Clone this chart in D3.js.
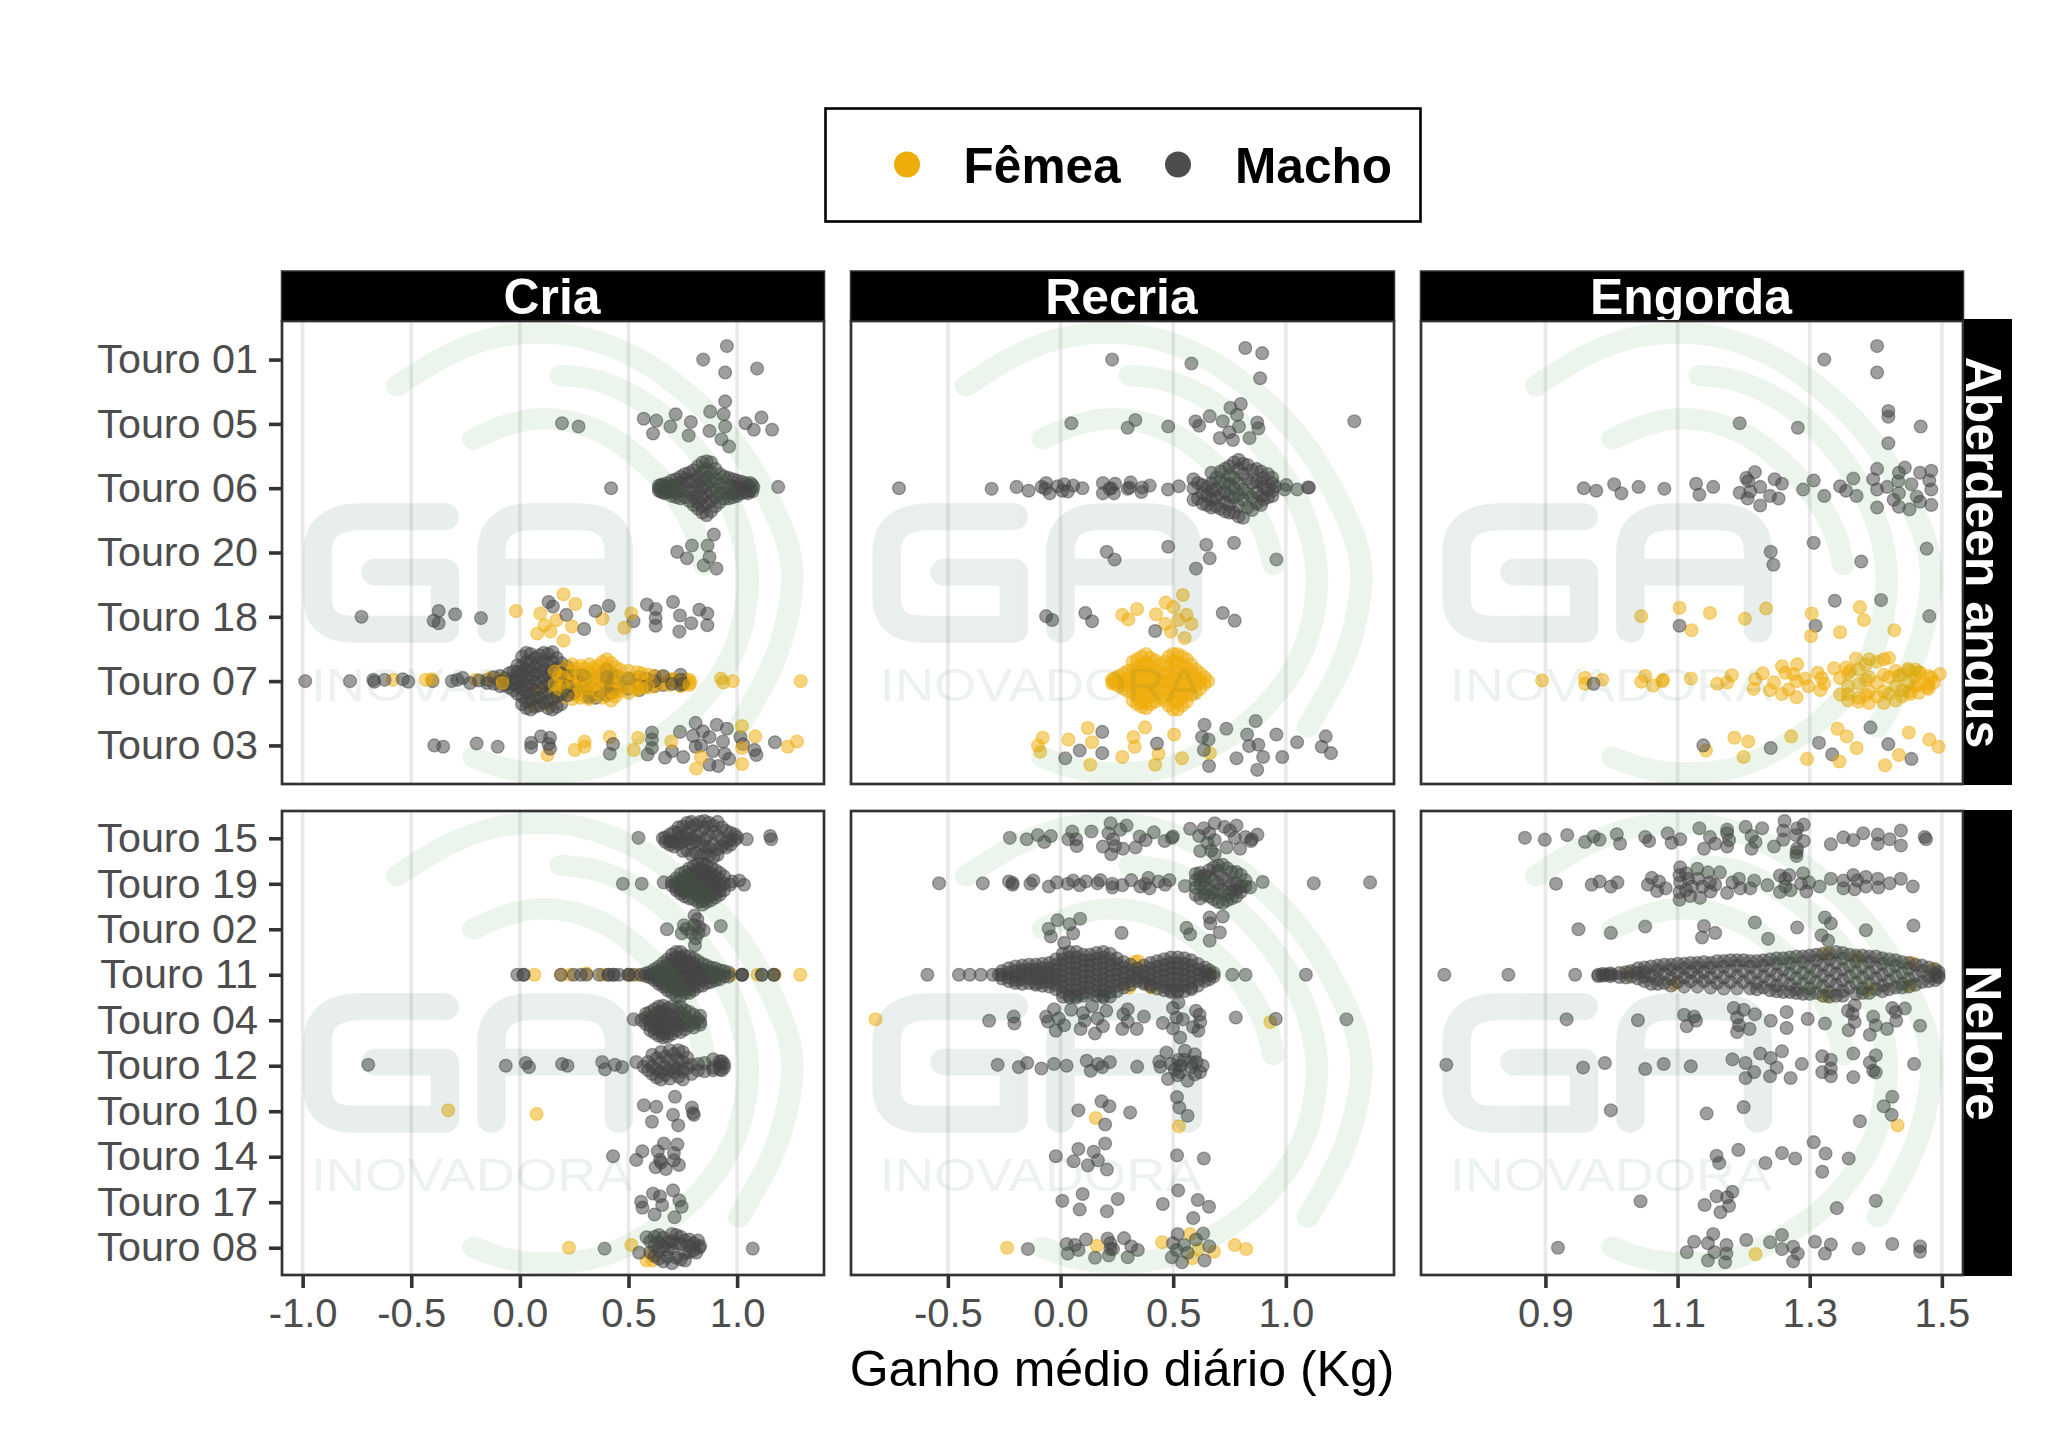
<!DOCTYPE html>
<html><head><meta charset="utf-8">
<script src="https://cdn.jsdelivr.net/npm/d3@7"></script>
<style>html,body{margin:0;background:#fff}svg{display:block}text{font-family:"Liberation Sans",Arial,sans-serif}</style>
</head><body><svg id="c" width="2048" height="1433"></svg>
<script>
const fases=["Cria","Recria","Engorda"];
const racas=["Aberdeen angus","Nelore"];
const sexos=["Fêmea","Macho"];
const tourosAngus=[1,5,6,20,18,7,3];
const tourosNelore=[15,19,2,11,4,12,10,14,17,8];
const ticksCria=[-1,-.5,0,.5,1];
const ticksRecria=[-.5,0,.5,1];
const ticksEngorda=[.9,1.1,1.3,1.5];
// Each entry: [touro, [ganho, desvio vertical em % da categoria...], ...]
const criaAngusMacho=[
[1,[.953,-21],[.844,0],[.945,20],[1.092,14]],
[5,[.194,-1],[.27,4],[.57,-8],[.628,-5],[.717,-15],[.693,4],[.613,15],[.787,-3],[.777,18],[.876,-19],[.945,-35],[.938,-15],[.945,4],[.873,11],[.928,24],[.963,35],[1.039,-1],[1.112,-10],[1.077,9],[1.161,9]],
[6,[.42,0],[1.189,-2],[.64,0,-4,4],[.65,-5,5],[.66,0,-6,7],[.67,-3,8],[.68,-8,3,6],[.70,-12,-4,6,12],[.72,-14,-4,6,14],[.74,-18,-8,4,16],[.76,-14,0,14,-22],[.78,-24,-10,6,20],[.80,-28,-12,2,14,26],[.82,-34,-18,-6,8,22,32],[.84,-40,-26,-12,0,14,28,38],[.86,-42,-30,-16,-4,10,24,42],[.88,-40,-24,-10,6,20,36],[.90,-30,-14,0,14,28],[.92,-22,-6,8,22],[.94,-18,0,16],[.96,-16,-4,8,16],[.98,-14,-2,8,14],[1.0,-12,-2,8,12],[1.02,-10,0,8],[1.04,-8,6],[1.05,-4,8],[1.06,-8,4],[1.07,-5,5],[1.075,-1]],
[20,[.893,-28],[.792,-11],[.724,-1],[.769,9],[.864,-11],[.873,7],[.846,20],[.905,25]],
[18,[-.729,0],[-.374,-9],[-.397,6],[-.374,10],[-.298,-4],[-.179,2],[.132,-23],[.152,-16],[.214,-3],[.296,19],[.348,-9],[.409,-17],[.523,7],[.585,-19],[.625,-12,2,14],[.705,-23],[.737,-2],[.734,23],[.789,10],[.826,-11],[.863,-5,13]],
[7,[-.988,0],[-.782,0],[-.675,-2],[-.67,1],[-.623,-2],[-.539,-3],[-.514,1],[-.402,0],[-.313,0],[-.288,-2],[-.263,-5],[-.229,3],[-.188,-1],[-.15,-2,3],[-.12,-6,4],[-.09,0,-8,8],[-.07,-4,6],[-.05,-12,0,10],[-.03,-15,-5,5,14],[-.01,-25,-14,-3,8,20],[.01,-38,-24,-12,0,12,24,36],[.03,-44,-30,-18,-6,6,18,32,42],[.05,-42,-30,-16,-4,8,20,30,44],[.07,-36,-22,-10,2,14,26,40],[.09,-40,-28,-14,0,12,26,38],[.11,-44,-32,-18,-6,8,20,34],[.13,-42,-26,-12,2,16,30,42],[.15,-45,-30,-16,-2,12,28,44],[.17,-36,-20,-6,10,24,40],[.19,-28,-12,4,20,36],[.22,-22,-8,8,22],[.25,-14,6,18],[.29,-10,10],[.32,12,25],[.35,-5,15,26],[.40,-18,-6,8,22],[.42,-12,4,18],[.45,-8,10],[.50,-4,12],[.55,-6,6,14],[.58,-4,8],[.62,0,-8,8],[.66,-8,6],[.70,-2,4],[.74,-10,-2,6],[.75,4]],
[3,[-.394,0],[-.353,2],[-.199,-3],[-.102,2],[.052,-4,3],[.097,-14],[.139,-12,5],[.132,-2],[.429,-2],[.414,13],[.608,-20,-9,4],[.588,14],[.668,19],[.7,9],[.737,-21],[.752,18],[.809,-35,2],[.797,-15],[.843,-22],[.873,-13,30],[.834,0],[.888,9],[.906,-32],[.953,-26],[.935,-6],[.943,13],[.963,21],[.913,32],[1.015,-13],[1.027,-2],[1.08,7],[1.089,15],[1.174,-5]]
];
const criaAngusFemea=[
[18,[-.018,-9],[.201,-35,37],[.255,-20],[.094,-5],[.169,5],[.114,13],[.24,15],[.08,26],[.141,23],[.38,3],[.513,-5],[.481,17]],
[7,[-.585,-2],[-.434,-2],[-.405,-3],[-.204,-2],[-.137,-5],[-.08,-3,3],[.027,-19],[.08,13],[.069,37],[.139,37],[.16,-15,5,20],[.18,-8,12],[.20,-22,-6,8,24],[.22,-18,0,16],[.24,-26,-12,4,18,28],[.26,-20,-6,8,22],[.28,-24,-10,2,14,26],[.30,-20,-4,10,24],[.32,-26,-14,0,12,28],[.34,-20,-8,6,20],[.36,-24,-10,4,18],[.38,-30,-16,-2,12,26],[.40,-34,-20,-6,8,22],[.42,-28,-12,2,16,30],[.44,-22,-8,4,16,24],[.46,-18,-6,6,16],[.50,-16,-4,8,18],[.54,-14,-4,10,14],[.56,-12,2,10],[.59,-10,2,10],[.62,-8,2,8],[.66,-6,4],[.69,-2,6],[.71,0,-4],[.74,2,8],[.76,-3,5],[.78,-2,6],[.785,2],[.926,-4],[.936,2],[.98,0],[1.293,0]],
[3,[.127,15],[.253,7],[.298,-6,2],[.414,-13],[.524,7],[.544,-12],[.697,-6],[.834,18],[.812,36],[1.022,-30],[1.023,4,29],[1.084,-14],[1.233,2],[1.276,-6]]
];
const recriaAngusMacho=[
[1,[.229,0],[.581,6],[.82,-18],[.895,-10],[.886,29]],
[5,[.048,-1],[.332,-6],[.298,6],[.478,4],[.599,-4],[.615,3],[.662,-12],[.72,-4],[.754,-25],[.8,-31],[.783,-14],[.792,4],[.749,13],[.707,22],[.765,25],[.839,22],[.873,-2],[.878,7],[1.304,-4]],
[6,[-.717,0],[-.306,1],[-.195,-2],[-.142,4],[-.084,-2],[-.064,-8],[-.068,1],[-.048,8],[-.013,-3],[.016,-6],[.008,4],[.032,5],[.056,-4],[.097,0],[.188,-8,8],[.225,0],[.217,1],[.242,-7],[.237,8],[.298,1],[.311,-9],[.306,-1],[.362,-1],[.359,6],[.396,-4],[.477,2],[.525,-3],[.59,0,-14,18],[.61,-8,16],[.63,-5,8,24],[.65,-2,12,26],[.67,-24,-8,4,18,30],[.69,-16,2,14,28],[.71,-26,-10,10,32],[.73,-30,-8,6,22,36],[.75,-34,-20,-6,12,26,38],[.77,-40,-16,0,14,38],[.79,-44,-30,-8,10,28,44],[.81,-38,-22,2,18,46],[.83,-36,-14,8,30],[.85,-28,-8,14,34],[.87,-30,-10,6,24],[.89,-26,-8,12,26],[.90,-16,-2,18],[.92,-22,2,14],[.94,-8,4,-16,12],[.953,-3],[1.002,-5],[.994,2],[1.05,2],[1.098,-1],[1.103,-1]],
[20,[.205,-1],[.24,11],[.478,-9],[.647,-12],[.662,9],[.601,25],[.77,-15],[.958,11]],
[18,[-.064,-1],[-.037,5],[.11,-6],[.14,7],[.42,22],[.72,-6],[.773,6]],
[3,[.185,-21,12],[.085,8],[.021,20],[.428,-3],[.639,-32],[.628,-13],[.657,-9],[.636,7],[.659,32],[.736,-26],[.828,-17],[.837,1],[.866,-38],[.878,-1],[.899,18],[.781,20],[.873,38],[.958,-17],[.984,18],[1.05,-5],[1.159,2],[1.177,-14],[1.2,12]]
];
const recriaAngusFemea=[
[18,[.274,-3],[.34,-12],[.301,4],[.424,-4],[.467,-22],[.543,-34],[.501,-15],[.559,-3],[.523,5],[.465,11],[.581,11],[.49,23],[.551,33]],
[7,[.23,0,-3,4],[.245,-5,4],[.26,-8,2,8],[.28,-12,0,12],[.30,-16,-4,6,16],[.32,-30,-18,-6,6,18,30],[.34,-34,-22,-10,2,14,26,36],[.36,-38,-26,-14,-2,10,22,34,40],[.38,-42,-28,-16,-4,8,20,32,42],[.40,-36,-24,-12,0,12,24,36],[.42,-32,-16,-4,8,20,32],[.44,-26,-12,0,12,26],[.46,-30,-10,2,14,30],[.48,-38,-24,-12,0,12,24,38],[.50,-42,-30,-18,-6,6,18,30,44],[.52,-42,-28,-16,-4,8,20,32,44],[.54,-38,-26,-12,0,12,26,38],[.56,-34,-20,-8,6,20,32],[.58,-26,-14,-2,10,22],[.60,-18,-6,6,18],[.62,-12,0,12],[.64,-6,4],[.655,0]],
[3,[-.079,-12],[-.1,0],[-.09,10],[.035,-9],[.121,-27],[.14,-5],[.132,30],[.274,18],[.324,-13],[.329,2],[.375,-28],[.435,13],[.42,30],[.504,-17],[.539,20],[.663,12]]
];
const engordaAngusMacho=[
[1,[1.402,-21,20],[1.322,0]],
[5,[1.194,-1],[1.282,6],[1.419,-20,-11,30],[1.468,4]],
[6,[.958,0],[.977,4],[1.004,-6],[1.015,8],[1.041,-2],[1.08,1],[1.128,-7],[1.133,10],[1.154,-2],[1.217,-25],[1.204,-16],[1.207,-11],[1.247,-14],[1.258,-7],[1.194,7],[1.21,5],[1.206,16],[1.225,-2,27],[1.24,12],[1.253,16],[1.29,2],[1.306,-12],[1.322,12],[1.346,-3],[1.355,4],[1.366,-15],[1.371,12],[1.402,-30,2,30],[1.396,-14],[1.417,-2],[1.435,-24,8,29],[1.444,-32],[1.434,-11],[1.454,-6],[1.427,18],[1.451,33],[1.462,13],[1.467,21,-24],[1.484,-27,2,26],[1.481,-12]],
[20,[1.241,-1],[1.245,19],[1.306,-15],[1.378,14],[1.477,-6]],
[18,[1.103,14],[1.338,-25],[1.309,14],[1.408,-26],[1.481,-1]],
[7,[.973,4]],
[3,[1.139,0],[1.241,4],[1.314,-4],[1.334,14],[1.392,-28],[1.419,-2],[1.454,21]]
];
const engordaAngusFemea=[
[18,[1.045,-1],[1.103,-14],[1.149,-6],[1.121,21],[1.202,3],[1.234,-13],[1.303,-5],[1.302,30],[1.346,24],[1.376,-15],[1.382,5],[1.428,21]],
[7,[.895,-1],[.96,-5,4],[.986,-2],[1.051,-8],[1.045,1],[1.063,7],[1.077,0],[1.078,-2],[1.12,-4],[1.16,4],[1.182,-9],[1.175,2],[1.215,12],[1.218,-3],[1.229,-12],[1.24,14],[1.246,2],[1.258,-23,20],[1.263,-13],[1.268,13],[1.281,-26],[1.275,-11],[1.28,0,25],[1.293,-4],[1.298,8],[1.312,-13],[1.318,-5],[1.322,4],[1.316,14],[1.337,-20],[1.346,-5,21],[1.355,-21],[1.37,-35],[1.361,-16],[1.358,-12,8,20,30],[1.374,-18,4,26,32],[1.385,-26,-2,22],[1.39,-34,-6,16,34],[1.402,-30,2,24],[1.412,-34,-10,16,34],[1.42,-36,-6,20],[1.43,-16,8,30],[1.44,-10,14,24],[1.45,-16,2,16],[1.46,-6,8,-18],[1.465,-14,6,18],[1.48,-8,4,12],[1.478,10],[1.484,-5],[1.488,2],[1.497,-11],[1.449,-19],[1.467,-13],[1.452,20],[1.434,-8]],
[3,[1.143,8],[1.186,-12],[1.207,-6],[1.2,18],[1.272,-14],[1.296,21],[1.342,-26],[1.356,-14],[1.371,4],[1.345,25],[1.414,31],[1.435,15],[1.45,-20],[1.481,-9],[1.495,2]]
];
const criaNeloreMacho=[
[15,[.546,-1],[.658,0],[1.152,-5],[1.157,2],[1.044,2],[.67,-2,8],[.69,-8,6,14],[.71,-14,8,18],[.73,-24,-12,0,12],[.75,-26,-4,8,28],[.77,-34,-10,2,26],[.79,-36,-24,0,12,36],[.81,-30,-6,6,32],[.83,-36,-12,14,40],[.85,-38,-24,4,18,34],[.87,-34,-8,20,38],[.89,-28,-14,14,42],[.91,-36,-6,24,36],[.93,-24,4,18],[.95,-16,10,20],[.97,-12,2,14],[.99,-8,4],[1.0,-2]],
[19,[.474,0],[.561,0],[.662,-3],[1.032,2],[1.01,-7],[.977,-5],[.968,2],[.70,-4,4],[.72,-12,-2,8,14],[.74,-22,-8,4,14,22],[.76,-26,-14,-4,8,18,28],[.78,-34,-20,-8,4,16,32],[.80,-38,-26,-14,-2,10,22,34],[.82,-44,-32,-20,-8,4,16,28,40],[.84,-44,-34,-22,-10,2,14,26,38,46],[.86,-40,-28,-16,-4,8,20,30,40],[.88,-36,-22,-10,2,14,26,36],[.90,-30,-16,-4,8,20,30],[.92,-24,-8,4,16,24],[.94,-16,0,14]],
[2,[.677,0],[.925,-7],[.755,-9],[.745,9],[.804,-30],[.817,-22],[.801,-9],[.826,-5],[.789,8],[.822,8],[.846,2],[.809,20],[.806,35],[.767,-1]],
[11,[-.012,0],[.017,0,0],[.189,0],[.248,0],[.281,0],[.307,0],[.365,0],[.407,0,0],[.432,0,0],[.457,0],[.5,0,0],[.524,0],[.558,0],[1.023,0,0,0],[1.114,0,0],[1.169,0,0],[.58,-3,3],[.60,-6,0,6],[.62,-12,-4,4,12],[.64,-18,-8,2,12,20],[.66,-26,-14,-4,8,18,26],[.68,-34,-22,-10,2,14,26,34],[.70,-44,-32,-20,-8,4,16,28,40],[.72,-50,-38,-26,-14,-2,10,22,34,46],[.74,-50,-38,-26,-14,-2,10,22,34,48],[.76,-42,-30,-18,-6,6,18,30,40],[.78,-40,-28,-16,-4,8,20,32,40],[.80,-36,-24,-12,0,12,24,34],[.82,-30,-14,-2,10,26],[.84,-24,-12,0,12,24],[.86,-20,-8,4,18],[.88,-16,-6,6,16],[.90,-14,-4,6,12],[.92,-10,0,10],[.94,-8,4],[.96,-5,4]],
[4,[.524,-2],[.56,0],[.58,-6,8,-14],[.60,-18,0,12,22],[.62,-24,-10,4,18,28],[.64,-30,-18,-4,8,22,34],[.66,-32,-20,-8,4,16,30,38],[.68,-26,-14,0,14,28,36],[.70,-30,-10,4,18,30],[.72,-26,-6,8,22],[.74,-30,-16,-2,12,26],[.76,-22,-8,6,20],[.78,-18,0,12],[.80,-12,6,16],[.83,-10,4,10],[.82,-2]],
[12,[-.698,-2],[-.065,0],[.027,-6],[.042,3],[.194,-4],[.219,0],[.379,-8],[.392,8],[.437,-2],[.471,3],[.536,-8],[.57,2],[.59,-8,10],[.61,-24,2,18],[.63,-16,8,26],[.65,-30,-6,14,30],[.67,-20,4,20],[.69,-34,-12,10,28],[.71,-26,2,14],[.73,-34,-14,6,24],[.75,-30,-8,12,30],[.77,-18,6],[.79,-2,18],[.82,-4,10],[.85,-6,12],[.89,-14,4,10],[.92,-10,-2,8],[.93,-10,10],[.94,-4,4]],
[10,[.571,-13],[.628,-10],[.714,-32],[.608,23],[.705,8],[.729,31],[.792,-8],[.801,8],[.797,4]],
[14,[.429,-1],[.536,7],[.564,-12],[.635,-12],[.663,-29],[.725,-27],[.709,-8,8],[.645,7],[.625,23],[.672,27],[.732,18],[.65,13]],
[17,[.613,-19],[.645,-13],[.705,-26],[.734,-4],[.745,10],[.558,-1],[.564,12],[.655,6],[.62,27],[.712,33]],
[8,[.39,2],[1.072,2],[.549,11],[.583,-23],[.60,-14,10],[.62,-24,-4,18],[.64,-28,-12,6,24],[.66,-22,-2,30],[.68,-12,4,20],[.70,-30,-14,2,34],[.72,-28,-10,22],[.74,-24,-8,26],[.76,-16,12,28],[.78,-18,-4,10],[.80,-10,6],[.82,-16],[.83,-4],[.826,0],[.812,11]]
];
const criaNeloreFemea=[
[11,[.067,0],[.189,0],[.231,0],[.307,-3],[.382,0],[.508,0],[.55,0],[.973,0],[1.094,0],[1.174,0],[1.291,0]],
[4,[.611,-10,-8]],
[10,[-.33,-2],[.077,6]],
[8,[.226,0],[.513,-6],[.583,28],[.605,15],[.611,28]]
];
const recriaNeloreMacho=[
[15,[-.225,-1],[-.15,2],[-.101,-7],[-.072,8],[-.043,-5],[.035,2],[.052,-15],[.069,2],[.072,17],[.137,-15],[.222,-33],[.213,-11],[.233,2],[.266,-19],[.293,-28],[.188,18],[.225,35],[.242,17],[.277,23],[.333,20],[.351,-4],[.378,4],[.414,-13],[.462,6],[.499,-4],[.494,-1],[.575,-21],[.636,-22],[.615,-5],[.66,-11],[.684,-33,4,35],[.652,10],[.62,28],[.668,27],[.737,20],[.728,-25],[.752,-17],[.781,-28],[.773,-1],[.797,23],[.821,-3],[.845,6],[.874,-8],[.849,2]],
[19,[-.539,-1],[-.345,-1],[-.229,-5],[-.213,2,-2],[-.134,0],[-.121,-7],[-.052,6],[-.016,-3],[.032,0],[.056,-7],[.085,3],[.113,-5],[.164,-1],[.177,-8],[.23,0,8],[.274,3],[.314,-8],[.354,6],[.375,0],[.395,10],[.39,-13],[.435,-5],[.464,2],[.483,-8],[.552,5],[.60,-22,-8,8,24],[.62,-24,-14,2,32],[.64,-18,-6,10,24],[.66,-30,-16,12,28],[.68,-36,-8,20,34],[.70,-40,-28,0,14,40],[.72,-42,-12,16,42],[.74,-34,-6,24,36],[.76,-26,2,18,32],[.78,-26,0,14,28],[.80,-20,6,18],[.82,-8,6],[.842,8],[.897,-4],[1.124,-1],[1.374,-3]],
[2,[-.013,-20],[.087,-23],[.04,-11],[-.053,-1],[.056,9],[-.043,16],[.016,30],[.271,8],[.559,-3],[.575,11],[.662,-26,25],[.72,-28],[.665,-13],[.707,7]],
[11,[-.591,0],[-.451,0],[-.403,0],[-.354,0],[-.301,0],[-.274,0],[.762,0],[.821,0],[1.089,0],[-.26,-8,0,8],[-.23,-14,-4,6,14],[-.20,-18,-8,2,12,18],[-.17,-20,-10,0,10,20],[-.14,-22,-12,-2,8,18],[-.11,-22,-12,-2,8,18,22],[-.08,-24,-14,-4,6,16,24],[-.05,-26,-14,-4,6,16,26],[-.02,-34,-22,-10,0,10,22,32],[.01,-46,-34,-22,-10,2,14,26,38,48],[.04,-50,-38,-26,-14,-2,10,22,34,46,50],[.07,-50,-38,-26,-14,-2,10,22,34,46,50],[.10,-44,-32,-20,-8,4,16,28,40,46],[.13,-44,-32,-20,-8,4,16,28,40],[.16,-48,-36,-24,-12,0,12,24,36,46],[.19,-50,-38,-26,-14,-2,10,22,34,46,50],[.22,-46,-34,-22,-10,2,14,26,38,48],[.25,-36,-24,-12,0,12,24,36],[.28,-28,-16,-4,8,20,28],[.31,-22,-10,2,14,22],[.34,-14,-4,6,14],[.37,-20,-8,4,16,20],[.40,-26,-14,-2,10,22,26],[.43,-30,-18,-6,6,18,30],[.46,-34,-22,-10,2,14,26,34],[.49,-38,-26,-14,-2,10,22,34,38],[.52,-38,-26,-14,-2,10,22,34,38],[.55,-36,-24,-12,0,12,24,36],[.58,-32,-20,-8,4,16,28,32],[.61,-24,-12,0,12,24],[.64,-16,-6,4,14],[.66,-10,0,10],[.68,-4,4]],
[4,[-.317,1],[-.208,-8],[-.205,7],[-.064,-8],[-.029,-24],[-.056,3],[-.008,-4],[-.021,23],[.016,11],[.047,-23],[.089,19],[.1,-16],[.108,1],[.14,-31],[.164,-4],[.153,29],[.188,13],[.203,-21],[.274,19],[.279,-13],[.298,-24,3],[.338,19],[.37,-8],[.454,6],[.499,-27,18],[.523,-39],[.515,-6],[.543,-2],[.531,38],[.601,-21],[.617,-12],[.62,4],[.588,15],[.612,23],[.778,-6],[.955,-3],[1.269,-2]],
[12,[-.279,-2],[-.185,3],[-.148,-6],[-.085,6],[-.029,-4],[.027,0],[.116,-11],[.134,11],[.166,-4],[.185,3],[.219,-8],[.34,2],[.438,-9],[.443,2],[.47,-29],[.477,29],[.491,-4],[.507,8],[.523,-13],[.531,0,14],[.52,21],[.552,-33],[.548,-13],[.564,33],[.58,4,-8],[.596,-25,19],[.604,-8],[.62,14],[.631,0]],
[10,[.182,-22],[.217,-11],[.079,-2],[.309,3],[.198,29],[.517,-31],[.527,-8],[.564,10]],
[14,[.198,-29],[.079,-17],[.147,-11],[-.021,-1],[.058,10],[.166,8],[.121,19],[.206,28],[.517,-3],[.636,4]],
[17,[.098,-18],[.008,-3],[.085,16],[.206,20],[.254,-7],[.454,4],[.522,-26],[.609,-5],[.659,10],[.589,35]],
[8,[-.145,3],[.027,-8],[.064,-6],[.08,5],[.032,13],[.113,-18],[.153,22],[.209,-20],[.221,-10,3],[.233,3],[.214,17],[.282,-21],[.314,-3],[.343,5],[.298,21],[.52,-30],[.499,-10],[.515,5],[.494,21],[.548,-6],[.564,11],[.539,32],[.601,-18],[.633,-31],[.66,-3],[.639,28]]
];
const recriaNeloreFemea=[
[11,[.345,-30],[.306,28],[.403,28],[.668,0],[.33,-28]],
[4,[-.821,-2],[.931,4]],
[10,[.156,15],[.525,33]],
[8,[-.237,0],[.161,-4],[.451,-12],[.575,-30],[.773,-6],[.824,3],[.681,9],[.612,3],[.585,23]]
];
const engordaNeloreMacho=[
[15,[.869,-1],[.899,3],[.933,-7],[.96,8],[.973,-4],[.982,3],[1.008,-9],[1.013,12],[1.051,-3],[1.057,6],[1.085,-11],[1.091,10],[1.104,2],[1.133,-22],[1.149,-3],[1.14,23],[1.157,12],[1.175,-19,-11,18],[1.178,4],[1.203,-25],[1.212,-5,23],[1.218,8],[1.228,-22],[1.246,18],[1.262,-38],[1.26,-17,3],[1.281,-22,23],[1.291,-30,6],[1.279,-7],[1.28,31,39],[1.332,13],[1.351,-2],[1.366,4],[1.381,-11],[1.403,-8,12],[1.421,2],[1.438,-17,16],[1.474,-3],[1.476,2]],
[19,[.916,0],[.97,2],[.982,-5],[.999,6],[1.009,-3],[1.055,2],[1.061,-13],[1.072,-5],[1.069,16],[1.082,10],[1.104,-36,-3],[1.103,-19,18,35],[1.113,-23,14],[1.116,-11],[1.119,27],[1.13,-33],[1.131,-11],[1.122,6],[1.134,31],[1.138,6],[1.146,-25],[1.149,-3],[1.15,17],[1.157,2],[1.164,-25],[1.175,20],[1.183,-3],[1.193,-11],[1.195,10],[1.21,10],[1.216,-7],[1.236,3],[1.255,-18,18],[1.263,-11,6],[1.269,-19],[1.271,14],[1.287,0],[1.29,-23],[1.295,17],[1.299,-3],[1.315,6],[1.332,-11],[1.351,-7,10],[1.366,-19],[1.368,12],[1.372,-7],[1.385,-15,6],[1.403,-11],[1.404,8],[1.421,-1],[1.438,-11],[1.456,6]],
[2,[.95,0],[.999,8],[1.051,-6],[1.14,-7],[1.137,18],[1.157,8],[1.217,-15],[1.237,21],[1.281,-4],[1.323,-26],[1.332,-13],[1.318,13],[1.328,25],[1.385,2],[1.457,-8]],
[11,[.747,0],[.844,0],[.945,0],[.98,0,3],[.987,-2,2],[.992,0],[.998,-3,3],[1.001,0],[1.012,-4,5],[1.022,-6,6],[1.03,-8,4],[1.04,-14,-4,8],[1.05,-16,-6,4,14],[1.06,-18,2,20],[1.07,-20,-10,10,20],[1.08,-22,-2,18],[1.09,-22,-12,8,24],[1.10,-24,-4,16],[1.11,-24,-14,6,26],[1.12,-26,-6,14],[1.13,-26,-16,4,26],[1.14,-28,-6,14],[1.15,-26,-16,6,28],[1.16,-30,-6,18],[1.17,-30,-18,6,30],[1.18,-32,-8,16],[1.19,-32,-20,4,30],[1.20,-32,-8,16],[1.21,-30,-18,6,30],[1.22,-30,-6,18,32],[1.23,-32,-20,4,28],[1.24,-34,-10,14,34],[1.25,-36,-24,0,24,36],[1.26,-36,-12,12,38],[1.27,-38,-26,-2,22,38],[1.28,-40,-16,8,32,40],[1.29,-40,-28,-4,20,42],[1.30,-42,-18,6,30,42],[1.31,-44,-32,-8,16,40],[1.32,-46,-22,2,26,46],[1.33,-46,-34,-10,14,38,48],[1.34,-50,-26,-2,22,46],[1.35,-48,-36,-12,12,36,46],[1.36,-44,-20,4,28],[1.37,-42,-30,-6,18,42],[1.38,-42,-18,6,30,40],[1.39,-40,-28,-4,20,40],[1.40,-40,-16,8,32],[1.41,-36,-24,0,24,36],[1.42,-34,-10,14,32],[1.43,-32,-20,4,28],[1.44,-28,-4,20,28],[1.45,-26,-14,10,26],[1.46,-22,2,22],[1.47,-20,-8,16],[1.48,-16,4,14],[1.49,-12,-2,12],[1.495,-6,2,6]],
[4,[.932,-2],[1.04,0],[1.11,-12],[1.114,13],[1.125,-8],[1.128,1],[1.185,-27],[1.2,-23],[1.217,-13],[1.19,-6,26],[1.193,11],[1.209,19],[1.241,1],[1.265,-18,17],[1.297,-3],[1.323,7],[1.358,-21],[1.368,-33,4],[1.365,-14],[1.359,22],[1.396,-8],[1.4,11],[1.391,32],[1.425,-27],[1.43,-18],[1.431,1],[1.417,19],[1.444,-26],[1.467,12]],
[12,[.75,-2],[.957,4],[.99,-6],[1.051,7],[1.079,-4],[1.12,1],[1.183,-14],[1.203,-6,27],[1.216,14],[1.225,-27],[1.241,-17],[1.25,4],[1.24,23],[1.258,-32],[1.271,27],[1.288,-4],[1.319,-21,14],[1.332,-13,6,23],[1.366,-27,25],[1.4,-23,15],[1.391,-7],[1.396,11],[1.458,-4]],
[10,[.999,-2],[1.144,5],[1.2,-9],[1.376,22],[1.412,-11],[1.425,-32],[1.424,8]],
[14,[1.192,-15],[1.159,-2],[1.163,14],[1.233,14],[1.258,-8],[1.278,4],[1.306,-32],[1.324,-7],[1.319,33],[1.359,4]],
[17,[1.044,-2],[1.141,6],[1.159,-13],[1.183,-23],[1.175,-11],[1.178,8],[1.165,22],[1.341,13],[1.4,-3]],
[8,[.919,0],[1.114,10],[1.125,-13],[1.146,-10,28],[1.154,-30],[1.156,10],[1.174,-6,13],[1.172,32],[1.204,-17],[1.24,-12],[1.258,-28,3],[1.275,-2,30],[1.282,13],[1.308,-13],[1.323,13],[1.332,-7],[1.374,2],[1.425,-8],[1.467,-3,9]]
];
const engordaNeloreFemea=[
[11,[1.025,-3],[1.325,47,-47],[1.455,-26],[1.452,24],[1.487,-13],[1.49,3],[1.372,-38],[1.39,33],[1.096,20]],
[10,[1.433,31]],
[8,[1.218,14]]
];

const corF="#EFAD0A",corM="#454545";
const svg=d3.select("#c");
const colX=[[282,824],[851,1394],[1421,1963]];
const rowY=[[321,784],[811,1275]];
const colDom=[[-1.095,1.4],[-.93,1.48],[.7117,1.532]];
const colTicks=[ticksCria,ticksRecria,ticksEngorda];
const rows=[tourosAngus,tourosNelore];
const series=[
 [[criaAngusMacho,criaAngusFemea],[recriaAngusMacho,recriaAngusFemea],[engordaAngusMacho,engordaAngusFemea]],
 [[criaNeloreMacho,criaNeloreFemea],[recriaNeloreMacho,recriaNeloreFemea],[engordaNeloreMacho,engordaNeloreFemea]]];
const lab=id=>"Touro "+String(id).padStart(2,"0");
const expand=(a,cor)=>a.flatMap(([id,...cols])=>cols.flatMap(([v,...os])=>os.map(o=>({id,v,o,cor}))));
const drawRank=d=>Math.abs(Math.round(d.v*1000)*7+Math.round(d.o)*13)%29;
const defs=svg.append("defs");
const line=d3.line().curve(d3.curveCatmullRom.alpha(.5));
const ringA=[[350,365],[500,270],[620,225],[730,212],[860,225],[1000,280],[1150,390],[1270,520],[1370,690],[1425,830],[1437,920],[1425,1030],[1385,1170],[1290,1357]];
const ringB=[[800,335],[900,350],[1000,395],[1100,470],[1200,590],[1275,730],[1312,880],[1310,1000],[1270,1150],[1170,1300],[1050,1400],[900,1475],[730,1490],[640,1475],[560,1445]];
const ringC=[[560,520],[650,480],[730,462],[830,470],[930,510],[1030,590],[1110,680],[1170,790],[1195,885]];
function watermark(g,x0,y0){
  const w=g.append("g").attr("transform",`translate(${x0-33*.3635},${y0-177*.344}) scale(.3635,.344)`).attr("pointer-events","none");
  const a=w.append("g").attr("opacity",.09);
  [ringA,ringB,ringC].forEach(r=>a.append("path").attr("d",line(r)).attr("fill","none").attr("stroke","#379B37").attr("stroke-width",62).attr("stroke-linecap","round"));
  const l=w.append("g").attr("opacity",.095).attr("fill","none").attr("stroke","#0A5A3A").attr("stroke-width",78).attr("stroke-linecap","round").attr("stroke-linejoin","round");
  l.append("path").attr("d","M481,746H250Q131,746 131,850V980Q131,1073 230,1073H481V907H290");
  l.append("path").attr("d","M609,1073V850Q609,746 720,746H850Q960,746 960,850V1073M609,907H960");
  w.append("text").text("INOVADORA").attr("x",112).attr("y",1281).attr("font-size",137).attr("textLength",886).attr("lengthAdjust","spacingAndGlyphs").attr("fill","#0A5A3A").attr("opacity",.075);
}
rows.forEach((touros,ri)=>{
  const [yt,yb]=rowY[ri];
  const y=d3.scalePoint().domain(touros.map(lab)).range([yt,yb]).padding(.6);
  fases.forEach((f,ci)=>{
    const [xl,xr]=colX[ci];
    const x=d3.scaleLinear().domain(colDom[ci]).range([xl,xr]);
    const cid=`clip${ri}${ci}`;
    defs.append("clipPath").attr("id",cid).append("rect").attr("x",xl).attr("y",yt).attr("width",xr-xl).attr("height",yb-yt);
    const p=svg.append("g");
    p.append("rect").attr("x",xl).attr("y",yt).attr("width",xr-xl).attr("height",yb-yt).attr("fill","#fff");
    p.append("g").selectAll("line").data(colTicks[ci]).join("line").attr("x1",d=>x(d)).attr("x2",d=>x(d)).attr("y1",yt).attr("y2",yb).attr("stroke","#E9E9E9").attr("stroke-width",3.6);
    const pts=p.append("g").attr("clip-path",`url(#${cid})`);
    const [m,fe]=series[ri][ci];
    const machos=expand(m,corM),femeas=expand(fe,corF);
    const todos=ri===0?machos.concat(femeas).sort((a,b)=>drawRank(a)-drawRank(b)):femeas.concat(machos);
    pts.selectAll("circle").data(todos).join("circle")
      .attr("cx",d=>x(d.v)).attr("cy",d=>y(lab(d.id))+d.o/100*y.step()).attr("r",6.4)
      .attr("fill",d=>d.cor).attr("fill-opacity",.52).attr("stroke",d=>d.cor).attr("stroke-opacity",.48).attr("stroke-width",1.3);
    const wm=p.append("g").attr("clip-path",`url(#${cid})`);
    watermark(wm,xl,yt);
    p.append("rect").attr("x",xl).attr("y",yt).attr("width",xr-xl).attr("height",yb-yt).attr("fill","none").attr("stroke","#333").attr("stroke-width",2.7);
    if(ri===1){
      const ax=p.append("g").attr("transform",`translate(0,${yb+1})`).call(d3.axisBottom(x).tickValues(colTicks[ci]).tickFormat(d=>d.toFixed(1)).tickSize(12).tickPadding(11));
      ax.select(".domain").remove();
      ax.selectAll("line").attr("stroke","#333").attr("stroke-width",3.6);
      ax.selectAll("text").attr("fill","#4D4D4D").attr("font-size",40).attr("font-family",'"Liberation Sans"');
    }
    if(ci===0){
      const ay=p.append("g").attr("transform",`translate(${xl-1},0)`).call(d3.axisLeft(y).tickSize(12).tickPadding(11));
      ay.select(".domain").remove();
      ay.selectAll("line").attr("stroke","#333").attr("stroke-width",3.6);
      ay.selectAll("text").attr("fill","#4D4D4D").attr("font-size",41.3).attr("font-family",'"Liberation Sans"');
    }
  });
});
// faixas superiores
fases.forEach((f,ci)=>{
  const [xl,xr]=colX[ci];
  svg.append("rect").attr("x",xl-.5).attr("y",271).attr("width",xr-xl+1).attr("height",50).attr("fill","#000").attr("stroke","#333").attr("stroke-width",1.5);
  defs.append("clipPath").attr("id","st"+ci).append("rect").attr("x",xl).attr("y",271).attr("width",xr-xl).attr("height",49);
  svg.append("g").attr("clip-path",`url(#st${ci})`).append("text").text(f).attr("x",(xl+xr)/2-1).attr("y",314).attr("text-anchor","middle").attr("fill","#fff").attr("font-weight","bold").attr("font-size",49.8);
});
// faixas laterais
racas.forEach((r,ri)=>{
  const [yt,yb]=rowY[ri];
  const top=ri===0?319:yt-1;
  svg.append("rect").attr("x",1964).attr("y",top).attr("width",48).attr("height",yb-top+1).attr("fill","#000");
  defs.append("clipPath").attr("id","sr"+ri).append("rect").attr("x",1965).attr("y",top).attr("width",47).attr("height",yb-top+1);
  svg.append("g").attr("clip-path",`url(#sr${ri})`).append("text").text(r).attr("transform",`translate(1966,${(yt+yb)/2}) rotate(90)`).attr("text-anchor","middle").attr("fill","#fff").attr("font-weight","bold").attr("font-size",50);
});
svg.append("text").text("Ganho médio diário (Kg)").attr("x",1122).attr("y",1386).attr("text-anchor","middle").attr("fill","#000").attr("font-size",50);
// legenda
svg.append("rect").attr("x",825.5).attr("y",108.5).attr("width",595).attr("height",113).attr("fill","#fff").attr("stroke","#000").attr("stroke-width",2.6);
const legX=[907,1178],legT=[963.5,1235];
sexos.forEach((s,i)=>{
  svg.append("circle").attr("cx",legX[i]).attr("cy",164.5).attr("r",13).attr("fill",i?"#4D4D4D":corF);
  svg.append("text").text(s).attr("x",legT[i]).attr("y",183).attr("font-weight","bold").attr("font-size",49.6).attr("fill","#000");
});
</script></body></html>
